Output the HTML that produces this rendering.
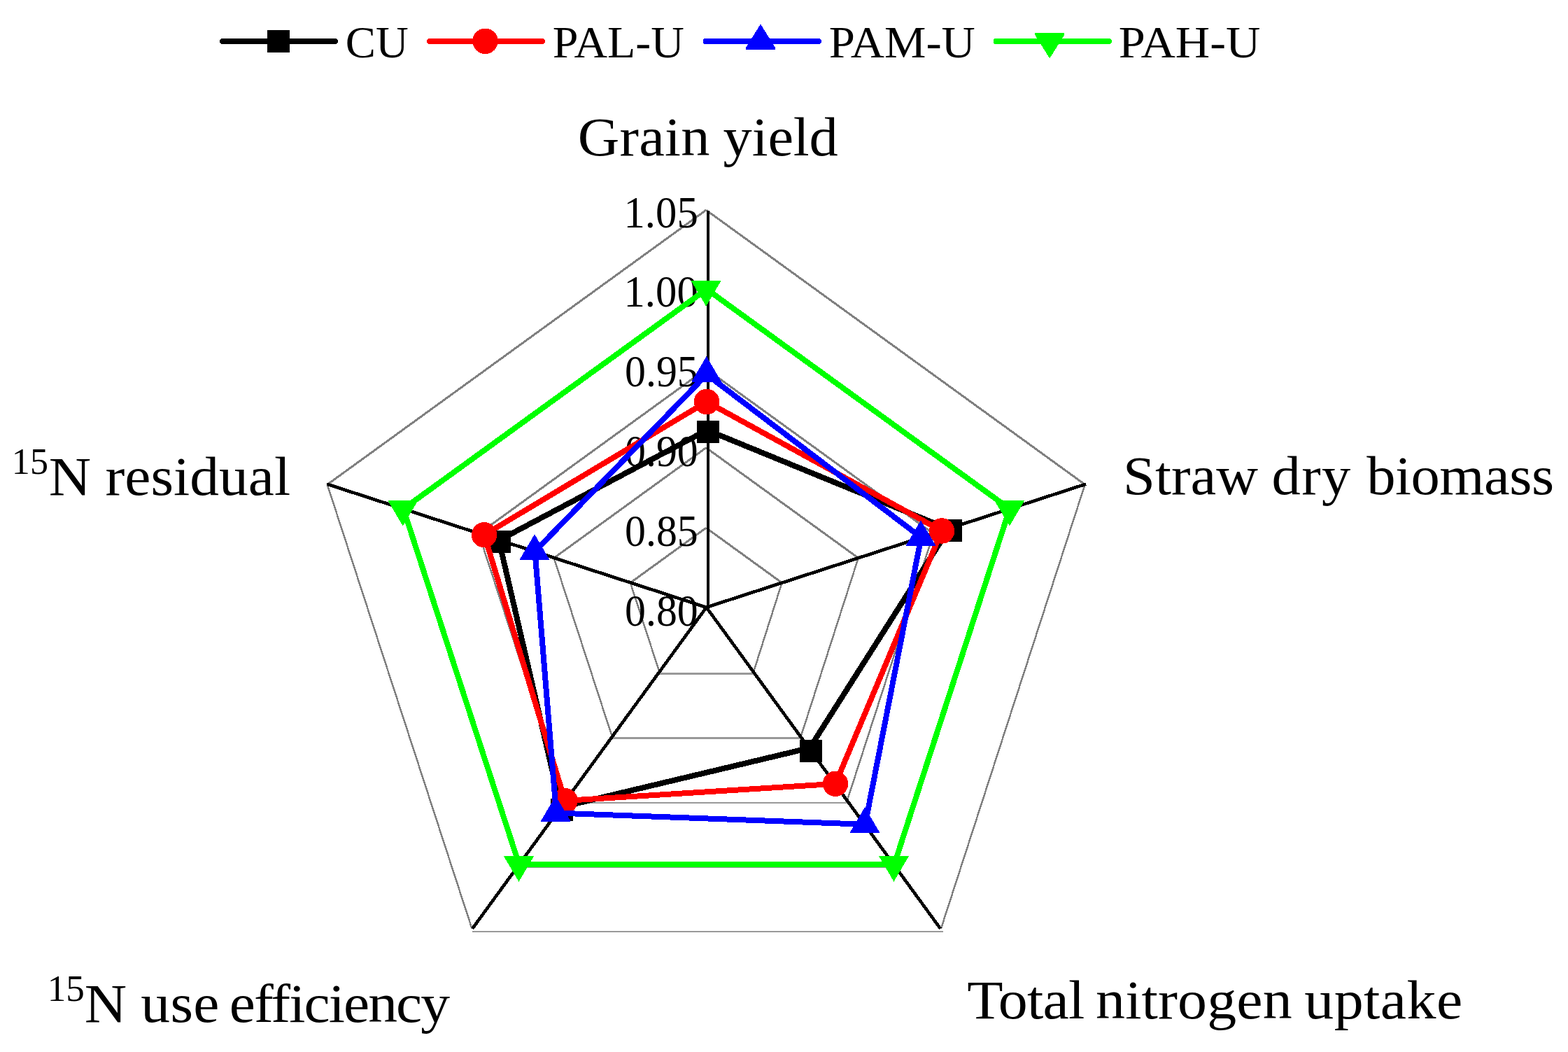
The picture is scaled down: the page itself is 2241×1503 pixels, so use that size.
<!DOCTYPE html>
<html lang="en"><head><meta charset="utf-8"><title>Radar chart</title>
<style>html,body{margin:0;padding:0;background:#fff}body{width:2241px;height:1503px;overflow:hidden}svg{display:block;position:absolute;left:0;top:0}text{font-family:"Liberation Serif","DejaVu Serif",serif;fill:#000}</style>
</head><body>
<svg xmlns="http://www.w3.org/2000/svg" width="2241" height="1503" viewBox="0 0 2241 1503">
<rect width="2241" height="1503" fill="#fff"/>
<g fill="none" stroke="#808080" shape-rendering="crispEdges">
<line x1="942.27" y1="959.54" x2="900.91" y2="832.62" stroke-width="2.5"/>
<line x1="900.91" y1="832.62" x2="1009.2" y2="754.18" stroke-width="3"/>
<line x1="1009.2" y1="754.18" x2="1117.49" y2="832.62" stroke-width="3"/>
<line x1="1117.49" y1="832.62" x2="1077.13" y2="959.54" stroke-width="2.5"/>
<line x1="874.76" y1="1052.19" x2="791.67" y2="797.23" stroke-width="2.5"/>
<line x1="791.67" y1="797.23" x2="1009.2" y2="639.66" stroke-width="3"/>
<line x1="1009.2" y1="639.66" x2="1226.73" y2="797.23" stroke-width="3"/>
<line x1="1226.73" y1="797.23" x2="1144.64" y2="1052.19" stroke-width="2.5"/>
<line x1="808.42" y1="1143.22" x2="684.34" y2="762.46" stroke-width="2.5"/>
<line x1="684.34" y1="762.46" x2="1009.2" y2="527.14" stroke-width="3"/>
<line x1="1009.2" y1="527.14" x2="1334.06" y2="762.46" stroke-width="3"/>
<line x1="1334.06" y1="762.46" x2="1210.98" y2="1143.22" stroke-width="2.5"/>
<line x1="741.5" y1="1235.06" x2="576.05" y2="727.38" stroke-width="2.5"/>
<line x1="576.05" y1="727.38" x2="1009.2" y2="413.62" stroke-width="3"/>
<line x1="1009.2" y1="413.62" x2="1442.35" y2="727.38" stroke-width="3"/>
<line x1="1442.35" y1="727.38" x2="1277.9" y2="1235.06" stroke-width="2.5"/>
<line x1="674.57" y1="1326.9" x2="467.76" y2="692.3" stroke-width="2.5"/>
<line x1="467.76" y1="692.3" x2="1009.2" y2="300.1" stroke-width="3"/>
<line x1="1009.2" y1="300.1" x2="1550.64" y2="692.3" stroke-width="3"/>
<line x1="1550.64" y1="692.3" x2="1344.83" y2="1326.9" stroke-width="2.5"/>
</g>
<g fill="none" stroke="#999" shape-rendering="crispEdges">
<line x1="942.43" y1="962.5" x2="1080.07" y2="962.5" stroke-width="3"/>
<line x1="875.56" y1="1054.5" x2="1146.94" y2="1054.5" stroke-width="3"/>
<line x1="808.7" y1="1147" x2="1213.8" y2="1147" stroke-width="2"/>
<line x1="741.83" y1="1238.5" x2="1280.67" y2="1238.5" stroke-width="3"/>
<line x1="674.96" y1="1331" x2="1347.54" y2="1331" stroke-width="2"/>
</g>
<g fill="none" stroke="#000" shape-rendering="crispEdges">
<line x1="1012.1" y1="301.3" x2="1012.1" y2="867.7" stroke-width="4"/>
<line x1="1009.6" y1="867.7" x2="1549.8" y2="692.3" stroke-width="4.7" stroke-linecap="square"/>
<line x1="1009.6" y1="867.7" x2="469.4" y2="692.3" stroke-width="4.7" stroke-linecap="square"/>
<line x1="1009.6" y1="867.7" x2="1344" y2="1326.7" stroke-width="4.6"/>
<line x1="1009.6" y1="867.7" x2="675.2" y2="1326.7" stroke-width="4.6"/>
</g>
<text transform="translate(493.79 82) scale(1.0361 1)" font-size="62.5">CU</text>
<text transform="translate(789.79 82) scale(1.0554 1)" font-size="62.5">PAL-U</text>
<text transform="translate(1184.76 82) scale(1.0687 1)" font-size="62.5">PAM-U</text>
<text transform="translate(1598.71 82) scale(1.0945 1)" font-size="62.5">PAH-U</text>
<text transform="translate(891.52 324.6) scale(0.9637 1)" font-size="63">1.05</text>
<text transform="translate(891.52 438) scale(0.9637 1)" font-size="63">1.00</text>
<text transform="translate(893.1 552) scale(0.9491 1)" font-size="63">0.95</text>
<text transform="translate(893.1 666) scale(0.9491 1)" font-size="63">0.90</text>
<text transform="translate(893.1 780) scale(0.9491 1)" font-size="63">0.85</text>
<text transform="translate(893.1 893.7) scale(0.9491 1)" font-size="63">0.80</text>
<text transform="translate(825.85 222) scale(1.0506 1)" font-size="78.5" dx="0 0.18 0.18 0.18 0.18 0 -1.3 -0.18 -0.18 -0.18 -0.18">Grain yield</text>
<text transform="translate(1605.04 705.7) scale(1.0522 1)" font-size="78.5" dx="0 0.03 0.03 0.03 0.03 0 -0.95 1.3 1.3 0 2.05 -0.45 -0.45 -0.45 -0.45 -0.45 -0.45">Straw dry biomass</text>
<text transform="translate(1382.13 1455) scale(1.0694 1)" font-size="78.5" dx="0 -0.72 -0.72 -0.72 -0.72 0 -4.92 0.12 0.12 0.12 0.12 0.12 0.12 0.12 0 -3.2 0.41 0.41 0.41 0.41 0.41">Total nitrogen uptake</text>
<text transform="translate(16.87 676.9) scale(1.0067 1)" font-size="51.8">15</text>
<text transform="translate(69.77 707) scale(1.065 1)" font-size="78.5" dx="0 0 -0.6 0.02 0.02 0.02 0.02 0.02 0.02 0.02">N residual</text>
<text transform="translate(67.67 1429.9) scale(1.0267 1)" font-size="51.8">15</text>
<text transform="translate(120.67 1460) scale(1.065 1)" font-size="78.5" dx="0 0 -0.63 0.3 0.3 0 -6.09 -1.82 -1.82 -1.82 -1.82 -1.82 -1.82 -1.82 -1.82 -1.82">N use efficiency</text>
<g fill="#000" stroke="none" shape-rendering="crispEdges">
<polygon points="1010.5,614.5 1355.9,755.9 1157.3,1068.6 801.5,1153.3 713,772" fill="none" stroke="#000" stroke-width="8" stroke-linejoin="round"/>
<rect x="996" y="601" width="32" height="32"/>
<rect x="1343" y="742" width="32" height="32"/>
<rect x="1142.9" y="1057" width="32" height="32"/>
<rect x="786.6" y="1140.5" width="32" height="32"/>
<rect x="698" y="758" width="32" height="32"/>
</g>
<g fill="#f00" stroke="none" shape-rendering="crispEdges">
<polygon points="1010,574 1346,758.5 1194,1119.8 807.5,1144 692.1,764.2" fill="none" stroke="#f00" stroke-width="8" stroke-linejoin="round"/>
<circle cx="1010" cy="574" r="18.25"/>
<circle cx="1346" cy="758.5" r="18.25"/>
<circle cx="1194" cy="1119.8" r="18.25"/>
<circle cx="807.5" cy="1144" r="18.25"/>
<circle cx="692.1" cy="764.2" r="18.25"/>
</g>
<g fill="#00f" stroke="none" shape-rendering="crispEdges">
<polygon points="1010,535 1316.5,767.9 1236.5,1177.8 795,1161.5 764.5,787.8" fill="none" stroke="#00f" stroke-width="8" stroke-linejoin="round"/>
<polygon points="1009.7,509.1 1030.9,545.1 1030.9,545.7 988.5,545.7 988.5,545.1"/>
<polygon points="1316,743.3 1337.2,779.3 1337.2,779.9 1294.8,779.9 1294.8,779.3"/>
<polygon points="1236,1153.2 1257.2,1189.2 1257.2,1189.8 1214.8,1189.8 1214.8,1189.2"/>
<polygon points="794.2,1136.9 815.4,1172.9 815.4,1173.5 773,1173.5 773,1172.9"/>
<polygon points="764,763.2 785.2,799.2 785.2,799.8 742.8,799.8 742.8,799.2"/>
</g>
<g fill="#0f0" stroke="none" shape-rendering="crispEdges">
<polygon points="1010,413.2 1443,727 1278,1235.3 742,1235.3 576.5,727" fill="none" stroke="#0f0" stroke-width="8" stroke-linejoin="round"/>
<polygon points="987.9,401 1030.3,401 1030.3,401.6 1009.1,437.6 987.9,401.6"/>
<polygon points="1421.6,715 1464,715 1464,715.6 1442.8,751.6 1421.6,715.6"/>
<polygon points="1256.3,1223 1298.7,1223 1298.7,1223.6 1277.5,1259.6 1256.3,1223.6"/>
<polygon points="720.3,1223.2 762.7,1223.2 762.7,1223.8 741.5,1259.8 720.3,1223.8"/>
<polygon points="554.6,715 597,715 597,715.6 575.8,751.6 554.6,715.6"/>
</g>
<g fill="#000" stroke="none" shape-rendering="crispEdges">
<line x1="317.9" y1="59" x2="479" y2="59" stroke="#000" stroke-width="8" stroke-linecap="round"/>
<rect x="382" y="43" width="32" height="32"/>
</g>
<g fill="#f00" stroke="none" shape-rendering="crispEdges">
<line x1="614.2" y1="59" x2="775" y2="59" stroke="#f00" stroke-width="8" stroke-linecap="round"/>
<circle cx="693.5" cy="58.8" r="18.25"/>
</g>
<g fill="#00f" stroke="none" shape-rendering="crispEdges">
<line x1="1008.5" y1="59" x2="1170" y2="59" stroke="#00f" stroke-width="8" stroke-linecap="round"/>
<polygon points="1087,34.4 1108.2,68.4 1108.2,71 1065.8,71 1065.8,68.4"/>
</g>
<g fill="#0f0" stroke="none" shape-rendering="crispEdges">
<line x1="1423.6" y1="59" x2="1584.8" y2="59" stroke="#0f0" stroke-width="8" stroke-linecap="round"/>
<polygon points="1479,47 1521.4,47 1521.4,49.6 1500.2,83.6 1479,49.6"/>
</g>
</svg>
</body></html>
